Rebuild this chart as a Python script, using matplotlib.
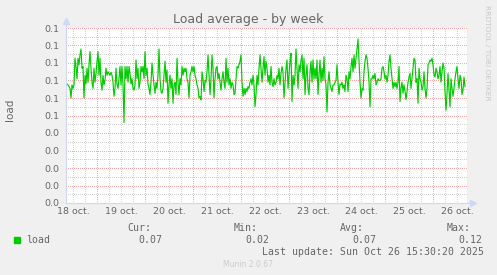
import numpy as np
import matplotlib
matplotlib.use('Agg')
import matplotlib.pyplot as plt
from matplotlib.patches import Rectangle

# ---- data (load average, 30-min samples) ----
load = [
    0.068, 0.0675, 0.0665, 0.0655, 0.060, 0.0675, 0.0655, 0.0675, 0.0827, 0.078,
    0.071, 0.0827, 0.079, 0.0846, 0.088, 0.077, 0.078, 0.060, 0.073, 0.068,
    0.077, 0.069, 0.079, 0.0865, 0.077, 0.069, 0.0655, 0.077, 0.069, 0.074,
    0.081, 0.0865, 0.073, 0.0827, 0.069, 0.0645, 0.073, 0.0675, 0.070, 0.077,
    0.073, 0.075, 0.074, 0.073, 0.0747, 0.073, 0.069, 0.061, 0.0655, 0.077,
    0.0675, 0.0655, 0.071, 0.078, 0.0675, 0.078, 0.0675, 0.046, 0.078, 0.071,
    0.078, 0.069, 0.078, 0.074, 0.068, 0.071, 0.0655, 0.0645,
    0.0675, 0.0817, 0.071, 0.077, 0.0655, 0.069, 0.078, 0.075, 0.078, 0.071,
    0.0865, 0.073, 0.077, 0.068, 0.0655, 0.062, 0.069, 0.080, 0.073, 0.0675,
    0.0627, 0.069, 0.0655, 0.073, 0.088, 0.071, 0.0637, 0.0627, 0.0655, 0.073,
    0.081, 0.069, 0.076, 0.057, 0.0675, 0.073, 0.0655, 0.071, 0.057, 0.0675,
    0.069, 0.062, 0.0827, 0.069, 0.062, 0.071, 0.0675, 0.078, 0.073, 0.077,
    0.075, 0.077, 0.071, 0.069, 0.060, 0.073, 0.075, 0.078, 0.075, 0.078,
    0.073, 0.071, 0.0675, 0.0655, 0.060, 0.061, 0.059,
    0.075, 0.071, 0.0637, 0.070, 0.069, 0.075, 0.0846, 0.073, 0.062, 0.071,
    0.0846, 0.077, 0.060, 0.071, 0.077, 0.078, 0.071, 0.074, 0.069, 0.0645,
    0.071, 0.075, 0.069, 0.0655, 0.0827, 0.069, 0.077, 0.0675, 0.071, 0.0655,
    0.069, 0.0675, 0.062, 0.0627, 0.071, 0.078, 0.077, 0.079, 0.081, 0.0846,
    0.069, 0.061, 0.0655, 0.062, 0.0655, 0.0637, 0.0665, 0.0655, 0.069, 0.071,
    0.0675, 0.073, 0.0675, 0.055, 0.062, 0.073, 0.0675, 0.077, 0.0846, 0.077,
    0.069, 0.077, 0.0836, 0.073, 0.081, 0.077, 0.069, 0.073,
    0.0675, 0.078, 0.069, 0.0665, 0.071, 0.0675, 0.069, 0.073, 0.071, 0.077,
    0.0675, 0.074, 0.078, 0.075, 0.060, 0.069, 0.077, 0.0817, 0.0655, 0.073,
    0.081, 0.0855, 0.058, 0.073, 0.0675, 0.073, 0.088, 0.077, 0.0655, 0.079,
    0.075, 0.0817, 0.0846, 0.071, 0.0827, 0.062, 0.073, 0.079, 0.0655, 0.062,
    0.075, 0.081, 0.069, 0.0817, 0.071, 0.077, 0.071, 0.0817, 0.062, 0.073,
    0.0817, 0.069, 0.077, 0.070, 0.0836, 0.071, 0.0675, 0.052, 0.069, 0.075,
    0.0675, 0.0655, 0.0637, 0.0675, 0.0675, 0.069, 0.070, 0.079,
    0.069, 0.062, 0.068, 0.0675, 0.069, 0.0655, 0.0675, 0.0637, 0.073, 0.071,
    0.0637, 0.075, 0.071, 0.078, 0.0827, 0.075, 0.0846, 0.077, 0.0827, 0.0884,
    0.0937, 0.081, 0.069, 0.060, 0.0655, 0.0645, 0.075, 0.081, 0.0846, 0.0827,
    0.077, 0.069, 0.055, 0.071, 0.071, 0.073, 0.071, 0.074, 0.0675, 0.069,
    0.071, 0.070, 0.070, 0.071, 0.077, 0.078, 0.075, 0.071, 0.073, 0.069,
    0.073, 0.081, 0.0846, 0.077, 0.071, 0.0655, 0.069, 0.0665, 0.069, 0.0655,
    0.069, 0.078, 0.058, 0.0655, 0.069, 0.0627, 0.0675, 0.0637,
    0.059, 0.0637, 0.069, 0.072, 0.074, 0.0655, 0.071, 0.077, 0.0827, 0.0817,
    0.069, 0.071, 0.057, 0.077, 0.071, 0.069, 0.0645, 0.0665, 0.075, 0.0655,
    0.060, 0.0655, 0.079, 0.080, 0.0817, 0.081, 0.0827, 0.079, 0.073, 0.072,
    0.077, 0.075, 0.071, 0.073, 0.078, 0.069, 0.075, 0.080, 0.077, 0.0637,
    0.053, 0.0627, 0.074, 0.0645, 0.055, 0.071, 0.0655, 0.061, 0.0655, 0.071,
    0.075, 0.078, 0.071, 0.0655, 0.073, 0.071, 0.062, 0.0645, 0.072, 0.0665,
]
day_labels = ['18 oct.', '19 oct.', '20 oct.', '21 oct.', '22 oct.',
              '23 oct.', '24 oct.', '25 oct.', '26 oct.']
ytick_values = [0.0, 0.01, 0.02, 0.03, 0.04, 0.05, 0.06, 0.07, 0.08, 0.09, 0.10]
ytick_labels = ['0.0', '0.0', '0.0', '0.0', '0.0', '0.1', '0.1', '0.1', '0.1', '0.1', '0.1']
legend_name = 'load'
stat_names = ['Cur:', 'Min:', 'Avg:', 'Max:']
stat_values = ['0.07', '0.02', '0.07', '0.12']
title = 'Load average - by week'
last_update = 'Last update: Sun Oct 26 15:30:20 2025'

# time axis in days since 18 oct 00:00, samples every 30 min
start_day = 0.375
t = start_day + np.arange(len(load)) / 48.0
x_left, x_right = 0.354, 8.708

W, H = 497, 275
FONT = '#666666'
AXIS = '#CFD6F8'
fig = plt.figure(figsize=(W / 100, H / 100), dpi=100, facecolor='#F0F0F0')


def fx(x):
    return x / W


def fy(y):
    return 1 - y / H


ax = fig.add_axes([66 / W, (H - 203) / H, 401 / W, 175 / H])
ax.set_facecolor('white')
ax.set_xlim(x_left, x_right)
ax.set_ylim(0, 0.1)

# grid (dotted)
dot = (0.5, (1, 1))
for q in np.arange(0.25, 9.0, 0.25):
    if x_left < q < x_right:
        major = abs(q - round(q)) < 1e-9
        ax.axvline(q, color='#FFA6A6' if major else '#D0D0D0', lw=0.72,
                   linestyle=dot, zorder=1)
for v in np.arange(0.005, 0.1001, 0.005):
    major = abs(v / 0.01 - round(v / 0.01)) < 1e-6
    ax.axhline(v, color='#FFA6A6' if major else '#D0D0D0', lw=0.72,
               linestyle=dot, zorder=1)

ax.plot(t, load, color='#00CC00', lw=0.85, zorder=3)

for s in ['top', 'right', 'left', 'bottom']:
    ax.spines[s].set_visible(False)
# axis lines with arrows
ax.plot([0, 0], [0, 1.04], transform=ax.transAxes, color=AXIS, lw=0.8,
        clip_on=False, zorder=4)
ax.plot([0, 1.015], [0, 0], transform=ax.transAxes, color=AXIS, lw=0.8,
        clip_on=False, zorder=4)
ax.plot([0], [1.04], marker='^', ms=4, color=AXIS, transform=ax.transAxes,
        clip_on=False, zorder=4)
ax.plot([1.015], [0], marker='>', ms=4, color=AXIS, transform=ax.transAxes,
        clip_on=False, zorder=4)

ax.set_xticks(np.arange(len(day_labels)) + 0.5)
ax.set_xticklabels(day_labels)
ax.set_yticks(ytick_values)
ax.set_yticklabels(ytick_labels)
ax.tick_params(axis='both', length=0, labelsize=6.8, labelcolor=FONT)
ax.tick_params(axis='x', pad=3)
ax.tick_params(axis='y', pad=5)

fig.text(fx(248.5), fy(20), title, ha='center', va='center', fontsize=9,
         color=FONT)
fig.text(fx(10), fy(110), 'load', rotation=90, ha='center', va='center',
         fontsize=7.5, color=FONT)
fig.text(fx(487), fy(53), 'RRDTOOL / TOBI OETIKER', rotation=270,
         ha='center', va='center', fontsize=5.4, color='#C8C8C8')

mono = dict(family='DejaVu Sans Mono', fontsize=7.1, color=FONT)
fig.patches.append(Rectangle((fx(14), fy(242.7)), 6 / W, 6 / H,
                             transform=fig.transFigure, color='#00CC00'))
fig.text(fx(26.5), fy(243), legend_name, ha='left', va='baseline', **mono)
name_x = [127.5, 233.2, 340.0, 446.5]
val_x = [138.8, 245.4, 352.0, 458.8]
for nm, vx, nxx, val in zip(stat_names, val_x, name_x, stat_values):
    fig.text(fx(nxx), fy(231), nm, ha='left', va='baseline', **mono)
    fig.text(fx(vx), fy(243), val, ha='left', va='baseline', **mono)
fig.text(fx(261.5), fy(255), last_update, ha='left', va='baseline', **mono)
fig.text(fx(248), fy(267), 'Munin 2.0.67', ha='center', va='baseline',
         fontsize=5.5, color='#CCCCCC')

fig.savefig('out.png', dpi=100, facecolor=fig.get_facecolor())
